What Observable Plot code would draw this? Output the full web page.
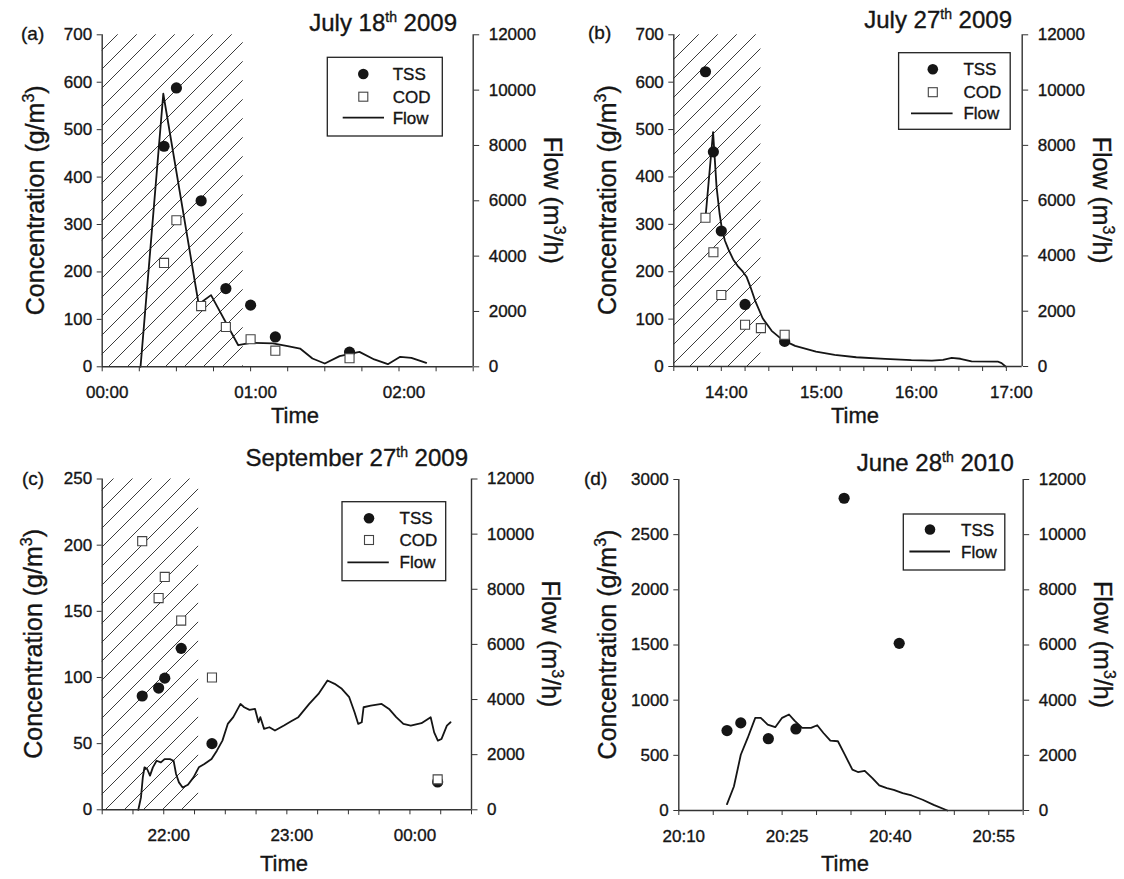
<!DOCTYPE html>
<html>
<head>
<meta charset="utf-8">
<script src="https://cdn.jsdelivr.net/npm/d3@7"></script>
<script src="https://cdn.jsdelivr.net/npm/@observablehq/plot@0.6"></script>
<style>
  html, body { margin: 0; padding: 0; background: #fff; }
  #fig { position: relative; width: 1124px; height: 879px; overflow: hidden; background: #fff;
         font-family: "Liberation Sans", Arial, Helvetica, sans-serif; color: #111; }
  #fig svg { position: absolute; overflow: visible; background: transparent; }
  #fig text { white-space: pre; stroke: #151515; stroke-width: 0.35px; }
</style>
</head>
<body>
<svg width="0" height="0" style="position:absolute">
  <defs>
    <pattern id="hatch" patternUnits="userSpaceOnUse" width="19" height="19">
      <path d="M-2,2 L2,-2 M0,19 L19,0 M17,21 L21,17" stroke="#3c3c3c" stroke-width="1"/>
    </pattern>
  </defs>
</svg>
<div id="fig"></div>
<script>
// ---------------- shared ----------------
const flowTicks = [0, 2000, 4000, 6000, 8000, 10000, 12000];   // right axis, m3/h
const flowMax = 12000;
const legendNames3 = ["TSS", "COD", "Flow"];
const legendNames2 = ["TSS", "Flow"];

// ---------------- (a) July 18th 2009 ----------------
const aClock = ["00:00", "02:30"];                  // x-axis span
const aTimeLabels = ["00:00", "01:00", "02:00"];
const aConcTicks = [0, 100, 200, 300, 400, 500, 600, 700];
const aHatch = ["00:00", "00:57"];
const aSampleMin = [25, 30, 40, 50, 60, 70, 100];   // minutes after 00:00
const aTSS = [465, 588, 350, 165, 130, 63, 31];
const aCOD = [219, 309, 128, 84, 58, 34, 18];
const aFlowMin = [15.5, 24.7, 39, 44, 55, 60, 69, 75, 80, 85, 90, 96, 104, 110, 115.5, 120.5, 125, 131];
const aFlow = [0, 9870, 2260, 2590, 780, 865, 845, 745, 660, 300, 120, 385, 540, 265, 95, 360, 325, 145];

// ---------------- (b) July 27th 2009 ----------------
const bClock = ["13:30", "17:10"];
const bTimeLabels = ["14:00", "15:00", "16:00", "17:00"];
const bConcTicks = [0, 100, 200, 300, 400, 500, 600, 700];
const bHatch = ["13:30", "14:25"];
const bSampleMin = [20, 25, 30, 45, 70];            // minutes after 13:30
const bTSS = [622, 453, 286, 131, 53];
const bCODMin = [20, 25, 30, 45, 55, 70];
const bCOD = [314, 241, 151, 88, 81, 67];
const bFlowMin = [20, 24.8, 27, 28.9, 30.5, 32.3, 34.5, 37.5, 40.7, 43.6, 45.9, 48.2, 51.6, 56.1, 61.8, 68.6, 76.6, 89.8, 101.6, 115.2, 133.4, 150, 163, 170, 175.5, 181, 188, 204.5, 207, 209.5];
const bFlow = [5380, 8480, 6500, 5535, 4935, 4550, 4235, 3875, 3610, 3430, 3250, 2910, 2345, 1745, 1290, 965, 745, 540, 420, 335, 275, 230, 215, 240, 310, 280, 185, 180, 120, 0];

// ---------------- (c) September 27th 2009 ----------------
const cClock = ["21:30", "00:30"];
const cTimeLabels = ["22:00", "23:00", "00:00"];
const cConcTicks = [0, 50, 100, 150, 200, 250];
const cHatch = ["21:30", "22:17"];
const cSampleMin = [19.5, 27.5, 30.5, 38.5, 53.5, 163.5];   // minutes after 21:30
const cTSS = [86, 92, 99.5, 122, 50, 21];
const cCOD = [203, 160, 176, 143, 100, 23];
const cFlowMin = [17.6, 18.9, 19.8, 20.6, 21.9, 23.3, 24.7, 26.5, 28.6, 30.4, 33.0, 34.8, 36.0, 37.4, 39.2, 41.8, 44.5, 47.1, 49.8, 53.3, 55.9, 58.6, 61.2, 63.9, 67.4, 69.2, 71.8, 74.5, 76.2, 77.1, 78.9, 81.5, 84.2, 88.6, 92.1, 95.6, 100.9, 105.4, 109.8, 113.3, 116.8, 120.4, 123.0, 124.8, 126.5, 127.4, 130.9, 136.2, 139.8, 143.3, 146.8, 150.4, 155.6, 160.1, 161.8, 163.6, 165.4, 168.0, 169.8];
const cFlow = [0, 450, 1180, 1540, 1480, 1240, 1540, 1780, 1720, 1840, 1840, 1780, 1300, 995, 810, 910, 1175, 1540, 1660, 1840, 2145, 2510, 3115, 3360, 3840, 3720, 3625, 3660, 3175, 3360, 2935, 2995, 2875, 3055, 3210, 3360, 3840, 4205, 4690, 4570, 4390, 4085, 3540, 3115, 3175, 3720, 3780, 3840, 3660, 3360, 3115, 3055, 3140, 3360, 2810, 2510, 2570, 3055, 3175];

// ---------------- (d) June 28th 2010 ----------------
const dClock = ["20:10", "21:00"];
const dTimeLabels = ["20:10", "20:25", "20:40", "20:55"];
const dConcTicks = [0, 500, 1000, 1500, 2000, 2500, 3000];
const dSampleMin = [7, 9, 13, 17, 24, 32];          // minutes after 20:10
const dTSS = [724, 794, 651, 739, 2830, 1515];
const dFlowMin = [7, 8, 9, 10, 11.1, 11.9, 12.9, 14, 15, 16, 16.8, 17.9, 19.2, 20.1, 21, 22, 23.1, 24.1, 25.2, 26, 27, 28.1, 29.1, 30.2, 31.2, 32.5, 33.8, 35.4, 37, 39];
const dFlow = [230, 870, 2020, 2630, 3360, 3360, 3115, 3020, 3360, 3480, 3260, 2995, 2995, 3090, 2810, 2530, 2510, 2025, 1480, 1395, 1440, 1175, 910, 810, 750, 630, 545, 390, 205, 0];

// ---------------- helpers ----------------
const minutesOf = s => { const [h, m] = s.split(":").map(Number); return h * 60 + m; };
const span = (a, b) => ((minutesOf(b) - minutesOf(a)) % 1440 + 1440) % 1440;
const pad = n => String(n).padStart(2, "0");
const clock = (start, t) => { const tot = ((minutesOf(start) + Math.round(t)) % 1440 + 1440) % 1440; return pad(Math.floor(tot / 60)) + ":" + pad(tot % 60); };

const panels = [
  { tag: "(a)", title: ["July 18", "th", " 2009"], clock: aClock, timeLabels: aTimeLabels, tickEvery: 15,
    conc: aConcTicks, hatch: aHatch, sMin: aSampleMin, tss: aTSS, codMin: aSampleMin, cod: aCOD,
    fMin: aFlowMin, flow: aFlow, names: legendNames3,
    g: { sx: 0, sy: 0, w: 562, h: 440, L: 101.7, R: 472.7, T: 34.3, B: 366.3 },
    tagPos: [21, 40], titlePos: [457, 31], timePos: [295, 423], concOff: 57.5,
    leg: { x0: 327.3, x1: 442.3, y0: 57.3, y1: 136, sym: 363.3, txt: 392.7, l1: 342.7, l2: 384, rows: [74, 96.7, 117.7] } },
  { tag: "(b)", title: ["July 27", "th", " 2009"], clock: bClock, timeLabels: bTimeLabels, tickEvery: 15,
    conc: bConcTicks, hatch: bHatch, sMin: bSampleMin, tss: bTSS, codMin: bCODMin, cod: bCOD,
    fMin: bFlowMin, flow: bFlow, names: legendNames3,
    g: { sx: 562, sy: 0, w: 562, h: 440, L: 673.3, R: 1021.7, T: 34.3, B: 366 },
    tagPos: [588, 39], titlePos: [1012, 28], timePos: [855, 423], concOff: 57,
    leg: { x0: 898.6, x1: 1010.2, y0: 52.7, y1: 129.3, sym: 932.8, txt: 963.4, l1: 911, l2: 952.6, rows: [69.3, 92.2, 113.3] } },
  { tag: "(c)", title: ["September 27", "th", " 2009"], clock: cClock, timeLabels: cTimeLabels, tickEvery: 15,
    conc: cConcTicks, hatch: cHatch, sMin: cSampleMin, tss: cTSS, codMin: cSampleMin, cod: cCOD,
    fMin: cFlowMin, flow: cFlow, names: legendNames3,
    g: { sx: 0, sy: 440, w: 562, h: 439, L: 101.7, R: 471, T: 478.5, B: 809.3 },
    tagPos: [22, 485], titlePos: [468, 466], timePos: [284, 871], concOff: 60,
    leg: { x0: 342, x1: 445.7, y0: 501.7, y1: 580.7, sym: 369, txt: 399.6, l1: 347.4, l2: 388.8, rows: [518.3, 540, 562.3] } },
  { tag: "(d)", title: ["June 28", "th", " 2010"], clock: dClock, timeLabels: dTimeLabels, tickEvery: 5,
    conc: dConcTicks, hatch: null, sMin: dSampleMin, tss: dTSS, codMin: [], cod: [],
    fMin: dFlowMin, flow: dFlow, names: legendNames2,
    g: { sx: 562, sy: 440, w: 562, h: 439, L: 678.3, R: 1022.7, T: 479, B: 810 },
    tagPos: [584, 485], titlePos: [1013.8, 471], timePos: [845, 871], concOff: 62,
    leg: { x0: 903.3, x1: 1004.8, y0: 514, y1: 570, sym: 930, txt: 961, l1: 909.4, l2: 950, rows: [529.5, 551.5] } }
];

const fig = document.getElementById("fig");
const ink = "#151515";
const FONT = "'Liberation Sans', Arial, sans-serif";

for (const p of panels) {
  const g = p.g;
  const xMax = span(p.clock[0], p.clock[1]);
  const yMax = p.conc[p.conc.length - 1];
  const toY = q => q * yMax / flowMax;
  const tssData = p.sMin.map((t, i) => ({ t, v: p.tss[i] }));
  const codData = p.codMin.map((t, i) => ({ t, v: p.cod[i] }));
  const flowData = p.fMin.map((t, i) => ({ t, q: p.flow[i] }));
  const minor = d3.range(0, xMax + 1e-9, p.tickEvery);
  const labelled = minor.filter(t => p.timeLabels.includes(clock(p.clock[0], t)));

  const marks = [];
  if (p.hatch) {
    marks.push(Plot.rect([p.hatch], {
      x1: d => span(p.clock[0], d[0]), x2: d => span(p.clock[0], d[1]),
      y1: () => 0, y2: () => yMax, fill: "url(#hatch)"
    }));
  }
  marks.push(
    Plot.line(flowData, { x: "t", y: d => toY(d.q), stroke: ink, strokeWidth: 1.8 }),
    Plot.dot(tssData, { x: "t", y: "v", r: 5.6, fill: ink, stroke: "none" }),
    Plot.dot(codData, { x: "t", y: "v", symbol: "square", r: 5.1, fill: "#fff", stroke: "#444", strokeWidth: 1.1 }),
    Plot.ruleY([0], { stroke: "#333", strokeWidth: 1.4 }),
    Plot.ruleX([0, xMax], { stroke: "#333", strokeWidth: 1.4 }),
    Plot.axisY({ ticks: p.conc, tickFormat: d => String(d), tickSize: 5, tickPadding: 5, fontSize: 17, label: null, stroke: "#333" }),
    Plot.axisY({ anchor: "right", ticks: flowTicks.map(toY), tickFormat: d => String(Math.round(d * flowMax / yMax)),
                 tickSize: 5.5, tickPadding: 10, fontSize: 17, label: null, stroke: "#333" }),
    Plot.axisX({ ticks: minor, tickFormat: () => "", tickSize: 5, label: null, stroke: "#333" }),
    Plot.axisX({ ticks: labelled, tickFormat: t => clock(p.clock[0], t), tickSize: 0, tickPadding: 19, dx: 5,
                 fontSize: 17, label: null })
  );

  const chart = Plot.plot({
    width: g.w, height: g.h,
    marginLeft: g.L - g.sx, marginRight: g.sx + g.w - g.R,
    marginTop: g.T - g.sy, marginBottom: g.sy + g.h - g.B,
    style: { fontFamily: FONT, color: ink, background: "transparent", overflow: "visible" },
    x: { domain: [0, xMax] },
    y: { domain: [0, yMax] },
    marks
  });
  chart.style.position = "absolute";
  chart.style.left = g.sx + "px";
  chart.style.top = g.sy + "px";
  chart.style.maxWidth = "none";
  fig.appendChild(chart);

  const svg = d3.select(chart);
  const ox = g.sx, oy = g.sy;
  const txt = (anchor = "start") => svg.append("text").attr("fill", ink).attr("font-family", FONT).attr("text-anchor", anchor);

  // panel tag
  txt().attr("x", p.tagPos[0] - ox).attr("y", p.tagPos[1] - oy).attr("font-size", 19).text(p.tag);

  // title with superscript
  const tt = txt("end").attr("x", p.titlePos[0] - ox).attr("y", p.titlePos[1] - oy).attr("font-size", 24);
  tt.append("tspan").text(p.title[0]);
  tt.append("tspan").attr("font-size", 14).attr("dy", -9).text(p.title[1]);
  tt.append("tspan").attr("dy", 9).text(p.title[2]);

  // left axis title
  const cy = (g.T + g.B) / 2 - oy;
  const cl = txt("middle").attr("transform", `translate(${g.L - p.concOff - ox},${cy}) rotate(-90)`).attr("font-size", 25);
  cl.append("tspan").text("Concentration (g/m");
  cl.append("tspan").attr("font-size", 16).attr("dy", -10).text("3");
  cl.append("tspan").attr("dy", 10).text(")");

  // right axis title
  const fl = txt("middle").attr("transform", `translate(${g.R + 71 - ox},${cy}) rotate(90)`).attr("font-size", 25);
  fl.append("tspan").text("Flow (m");
  fl.append("tspan").attr("font-size", 16).attr("dy", -10).text("3");
  fl.append("tspan").attr("dy", 10).text("/h)");

  // x axis title
  txt("middle").attr("x", p.timePos[0] - ox).attr("y", p.timePos[1] - oy).attr("font-size", 22).text("Time");

  // legend
  const L = p.leg;
  svg.append("rect").attr("x", L.x0 - ox).attr("y", L.y0 - oy).attr("width", L.x1 - L.x0).attr("height", L.y1 - L.y0)
     .attr("fill", "#fff").attr("stroke", "#222").attr("stroke-width", 1.3);
  p.names.forEach((name, i) => {
    const ry = L.rows[i] - oy;
    if (name === "TSS") svg.append("circle").attr("cx", L.sym - ox).attr("cy", ry).attr("r", 5.3).attr("fill", ink);
    if (name === "COD") svg.append("rect").attr("x", L.sym - ox - 4.5).attr("y", ry - 4.5).attr("width", 9).attr("height", 9)
                          .attr("fill", "#fff").attr("stroke", "#444").attr("stroke-width", 1.1);
    if (name === "Flow") svg.append("line").attr("x1", L.l1 - ox).attr("x2", L.l2 - ox).attr("y1", ry).attr("y2", ry)
                           .attr("stroke", ink).attr("stroke-width", 1.8);
    txt().attr("x", L.txt - ox).attr("y", ry + 6).attr("font-size", 17).text(name);
  });
}
</script>
</body>
</html>
